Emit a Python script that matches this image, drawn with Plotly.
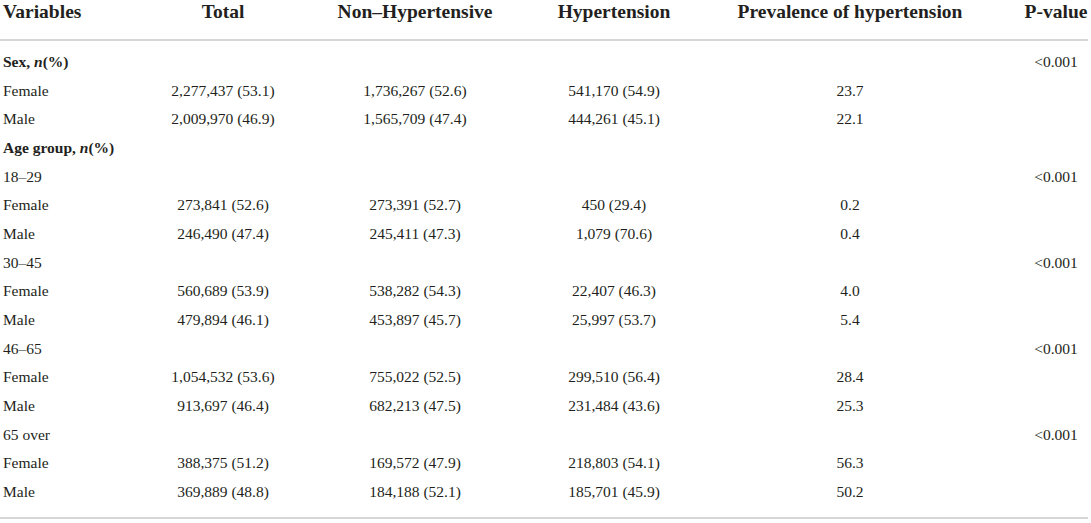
import plotly.graph_objects as go

# ---- data ----
headers = ["Variables", "Total", "Non–Hypertensive", "Hypertension",
           "Prevalence of hypertension", "P-value"]
row_labels = ["<b>Sex, <i>n</i>(%)</b>", "Female", "Male",
              "<b>Age group, <i>n</i>(%)</b>", "18–29", "Female", "Male",
              "30–45", "Female", "Male", "46–65", "Female", "Male",
              "65 over", "Female", "Male"]
total = ["", "2,277,437 (53.1)", "2,009,970 (46.9)", "", "",
         "273,841 (52.6)", "246,490 (47.4)", "", "560,689 (53.9)", "479,894 (46.1)",
         "", "1,054,532 (53.6)", "913,697 (46.4)", "", "388,375 (51.2)", "369,889 (48.8)"]
non_hyp = ["", "1,736,267 (52.6)", "1,565,709 (47.4)", "", "",
           "273,391 (52.7)", "245,411 (47.3)", "", "538,282 (54.3)", "453,897 (45.7)",
           "", "755,022 (52.5)", "682,213 (47.5)", "", "169,572 (47.9)", "184,188 (52.1)"]
hyp = ["", "541,170 (54.9)", "444,261 (45.1)", "", "",
       "450 (29.4)", "1,079 (70.6)", "", "22,407 (46.3)", "25,997 (53.7)",
       "", "299,510 (56.4)", "231,484 (43.6)", "", "218,803 (54.1)", "185,701 (45.9)"]
prevalence = ["", "23.7", "22.1", "", "", "0.2", "0.4", "", "4.0", "5.4",
              "", "28.4", "25.3", "", "56.3", "50.2"]
p_value = ["<0.001", "", "", "", "<0.001", "", "", "<0.001", "", "",
           "<0.001", "", "", "<0.001", "", ""]

# ---- layout / style ----
W, H = 1091, 523
col_x = [3, 223, 415, 614, 850, 1056]
header_y = 13
row0_y = 63
row_h = 28.67
top_line_y = 40
bottom_line_y = 518
line_x1 = 1088
font_family = "Liberation Serif, Times New Roman, serif"
text_color = "#231f20"
line_color = "#c9c9c9"

columns = [row_labels, total, non_hyp, hyp, prevalence, p_value]
row_y = [row0_y + i * row_h for i in range(len(row_labels))]

fig = go.Figure()

# header
for j, h in enumerate(headers):
    fig.add_trace(go.Scatter(
        x=[col_x[j]], y=[header_y], mode="text",
        text=[f"<b>{h}</b>"],
        textposition="middle right" if j == 0 else "middle center",
        textfont=dict(family=font_family, size=19.5, color=text_color),
        hoverinfo="skip", showlegend=False, cliponaxis=False))

# body
for j, col in enumerate(columns):
    xs, ys, ts = [], [], []
    for i, v in enumerate(col):
        if v:
            xs.append(col_x[j]); ys.append(row_y[i])
            ts.append(v.replace("<0", "&lt;0"))
    fig.add_trace(go.Scatter(
        x=xs, y=ys, mode="text", text=ts,
        textposition="middle right" if j == 0 else "middle center",
        textfont=dict(family=font_family, size=15.5, color=text_color),
        hoverinfo="skip", showlegend=False, cliponaxis=False))

fig.add_shape(type="line", x0=0, x1=line_x1, y0=top_line_y, y1=top_line_y,
              line=dict(color=line_color, width=1.5), xref="x", yref="y")
fig.add_shape(type="line", x0=0, x1=line_x1, y0=bottom_line_y, y1=bottom_line_y,
              line=dict(color=line_color, width=1.5), xref="x", yref="y")

fig.update_layout(
    width=W, height=H,
    margin=dict(l=0, r=0, t=0, b=0),
    paper_bgcolor="white", plot_bgcolor="white",
    xaxis=dict(range=[0, W], visible=False, fixedrange=True),
    yaxis=dict(range=[H, 0], visible=False, fixedrange=True),
)

fig.write_html("out.html", config={"displayModeBar": False},
               post_script="document.body.style.margin='0';document.body.style.overflow='hidden';")
